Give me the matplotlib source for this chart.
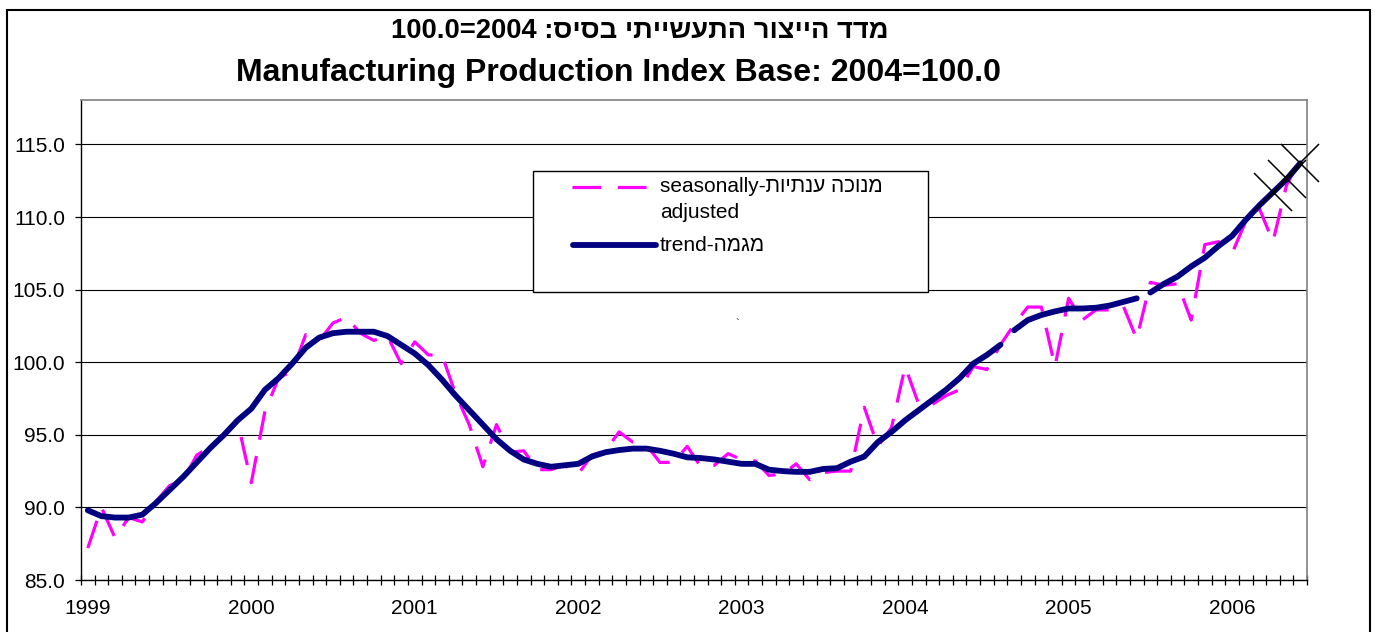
import matplotlib
matplotlib.use("Agg")
import matplotlib.pyplot as plt
import numpy as np
from matplotlib.patches import Rectangle
from matplotlib.lines import Line2D

plt.rcParams['font.family'] = ['Liberation Sans', 'DejaVu Sans']

# ---------------- data (monthly, Jan 1999 .. Jun 2006) ----------------
years = ["1999", "2000", "2001", "2002", "2003", "2004", "2005", "2006"]

seasonally_adjusted = [
    87.2, 90.0, 87.9, 89.3, 89.0, 90.4, 91.5, 91.9, 93.6, 94.2, 94.9, 95.9,
    91.7, 96.6, 98.9, 99.4, 101.9, 101.5, 102.7, 103.1, 102.0, 101.5, 101.8, 99.9,
    101.4, 100.5, 100.5, 97.8, 95.7, 92.8, 95.7, 93.8, 93.9, 92.6, 92.6, 92.9,
    92.3, 93.6, 93.9, 95.2, 94.5, 94.3, 93.1, 93.1, 94.2, 92.8, 92.9, 93.7,
    93.3, 93.2, 92.2, 92.3, 93.0, 91.9, 92.4, 92.5, 92.5, 96.9, 94.2, 95.5,
    99.7, 97.1, 97.1, 97.7, 98.1, 99.7, 99.5, 101.2, 102.6, 103.8, 103.8, 99.7,
    104.4, 102.9, 103.6, 103.6, 103.9, 101.6, 105.5, 105.3, 105.4, 102.9, 108.1, 108.3,
    107.5, 109.7, 110.6, 108.3, 112.2, 114.0,
]

trend = [
    89.8, 89.4, 89.3, 89.3, 89.5, 90.3, 91.2, 92.1, 93.1, 94.1, 95.0, 96.0,
    96.8, 98.1, 98.9, 99.9, 101.0, 101.7, 102.0, 102.1, 102.1, 102.1, 101.8, 101.2,
    100.6, 99.8, 98.8, 97.7, 96.7, 95.7, 94.7, 93.9, 93.3, 93.0, 92.8, 92.9,
    93.0, 93.5, 93.8, 93.95, 94.05, 94.05, 93.9, 93.7, 93.45, 93.4, 93.3, 93.15,
    93.0, 93.0, 92.6, 92.5, 92.45, 92.45, 92.65, 92.7, 93.15, 93.5, 94.5, 95.2,
    96.0, 96.7, 97.4, 98.1, 98.9, 99.9, 100.5, 101.2, 102.2, 102.9, 103.25, 103.5,
    103.7, 103.7, 103.75, 103.9, 104.15, 104.4, 104.8, 105.4, 105.9, 106.6, 107.2, 108.0,
    108.7, 109.8, 110.8, 111.7, 112.6, 113.7,
]

trend_gaps_after = [67, 77]      # trend segment missing after these months
provisional_last = 3             # last trend points marked with X

title_he = "מדד הייצור התעשייתי בסיס:"
title_en = "Manufacturing Production Index Base: 2004=100.0"
legend_sa_he = "מנוכה ענתיות"
legend_tr_he = "מגמה"

# ---------------- figure ----------------
W, H = 1378, 632
fig = plt.figure(figsize=(W / 100, H / 100), dpi=100)


def fx(x):
    return x / W


def fy(y):
    return 1 - y / H


ax = fig.add_axes([fx(81), fy(580), fx(1307) - fx(81), fy(100) - fy(580)])

n = len(seasonally_adjusted)
months = np.arange(n)
sa = np.array(seasonally_adjusted)
tr = np.array(trend, dtype=float)

# gridlines
for v in range(85, 120, 5):
    ax.axhline(v, color='black', lw=0.8, zorder=1)

# seasonally adjusted (dashed magenta)
pink = '#FF00FF'
l_sa, = ax.plot(months, sa, color=pink, lw=2.3, zorder=2)
l_sa.set_dashes([9.0, 5.2])

# trend with gaps
xt = months.astype(float)
yt = tr.copy()
for b in sorted(trend_gaps_after, reverse=True):
    xt = np.insert(xt, b + 1, b + 0.5)
    yt = np.insert(yt, b + 1, np.nan)
navy = '#000080'
ax.plot(xt, yt, color=navy, lw=4.2, solid_capstyle='round',
        solid_joinstyle='round', zorder=3)

ax.plot(months[-provisional_last:], tr[-provisional_last:], ls='none',
        marker='x', ms=27, mew=1.1, color='black', zorder=4, clip_on=False)

ax.set_xlim(-0.5, n - 0.5)
ax.set_ylim(85, 118.06)

ax.set_yticks(np.arange(85, 116, 5))
ax.set_yticklabels([f"{v:.1f}" for v in np.arange(85, 116, 5)], fontsize=15)
ax.tick_params(axis='y', direction='out', length=4.5, width=0.9, pad=7)

ax.set_xticks(np.arange(-0.5, n, 1.0))
ax.set_xticklabels([])
ax.tick_params(axis='x', which='major', direction='inout', length=7, width=0.9)
ax.set_xticks(np.arange(0, n, 12), minor=True)
ax.set_xticklabels(years, minor=True, fontsize=15)
ax.tick_params(axis='x', which='minor', length=0, pad=14)

for s in ['left', 'bottom']:
    ax.spines[s].set_color('black')
    ax.spines[s].set_linewidth(1.0)
for s in ['top', 'right']:
    ax.spines[s].set_color('#808080')
    ax.spines[s].set_linewidth(1.2)

# titles (Hebrew in visual order)
fig.text(fx(640), fy(31), "100.0=2004 " + title_he[::-1], ha='center',
         va='center', fontsize=19.7, fontweight='bold')
fig.text(fx(618), fy(73), title_en, ha='center', va='center',
         fontsize=23, fontweight='bold')

# legend box
fig.add_artist(Rectangle((fx(533), fy(292)), fx(928) - fx(533), fy(171) - fy(292),
                         transform=fig.transFigure, facecolor='white',
                         edgecolor='black', lw=1.0, zorder=5))
lg1 = Line2D([fx(572), fx(648)], [fy(187), fy(187)], transform=fig.transFigure,
             color=pink, lw=2.3, zorder=6)
lg1.set_dashes([9.0, 5.2])
fig.add_artist(lg1)
fig.add_artist(Line2D([fx(573), fx(656)], [fy(245), fy(245)], transform=fig.transFigure,
                      color=navy, lw=4.2, solid_capstyle='round', zorder=6))
fig.text(fx(660), fy(187), "seasonally-" + legend_sa_he[::-1], ha='left',
         va='center', fontsize=15, zorder=7)
fig.text(fx(660), fy(213), "adjusted", ha='left', va='center', fontsize=15, zorder=7)
fig.text(fx(660), fy(245), "trend-" + legend_tr_he[::-1], ha='left',
         va='center', fontsize=15, zorder=7)

# stray mark
fig.text(fx(737), fy(324), "`", ha='center', va='center', fontsize=8)

# outer chart border
fig.add_artist(Rectangle((fx(7), fy(640)), fx(1370) - fx(7), fy(10) - fy(640),
                         transform=fig.transFigure, fill=False,
                         edgecolor='black', lw=1.5, zorder=10))

fig.savefig("out.png", dpi=100)
